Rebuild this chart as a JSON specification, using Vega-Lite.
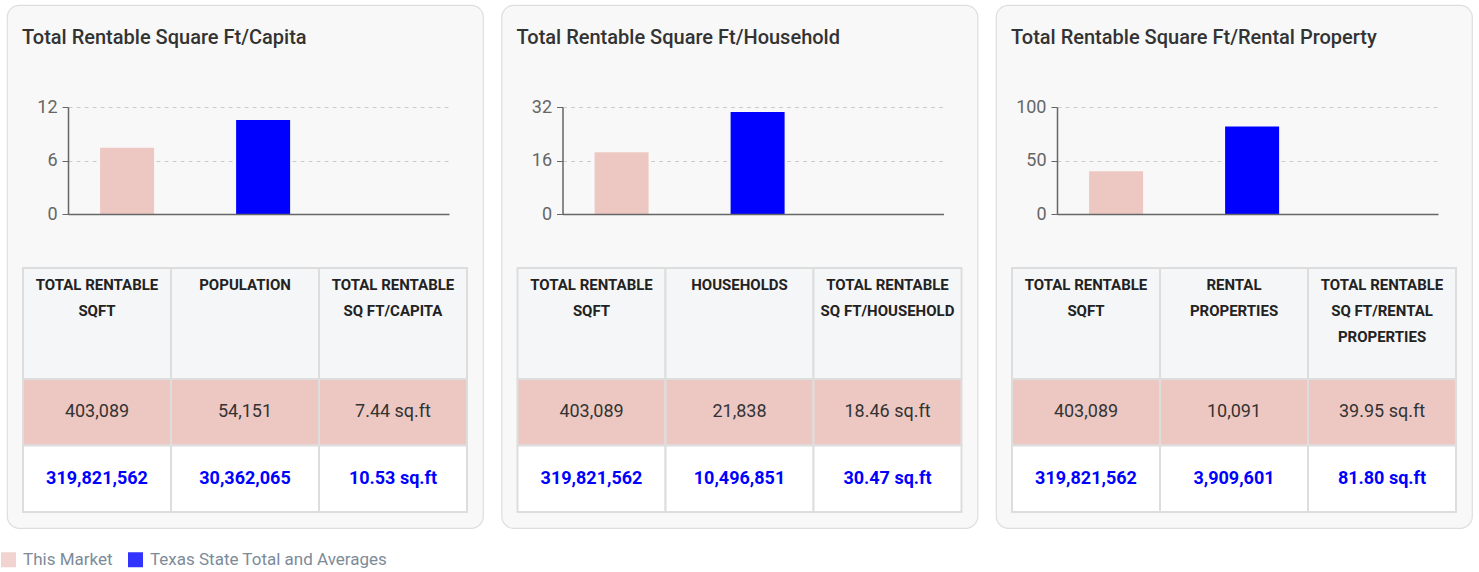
{
  "$schema": "https://vega.github.io/schema/vega-lite/v6.json",
  "padding": {"left": 0, "top": 4, "right": 0, "bottom": 0},
  "background": "white",
  "config": {
    "font": "Roboto",
    "view": {"fill": "#f8f8f8", "stroke": "#dedede", "strokeWidth": 1.2, "cornerRadius": 12},
    "concat": {"spacing": 16.5}
  },
  "datasets": {
    "bars": [
      {"panel": 1, "group": "This Market", "value": 7.44},
      {"panel": 1, "group": "Texas State Total and Averages", "value": 10.53},
      {"panel": 2, "group": "This Market", "value": 18.46},
      {"panel": 2, "group": "Texas State Total and Averages", "value": 30.47},
      {"panel": 3, "group": "This Market", "value": 39.95},
      {"panel": 3, "group": "Texas State Total and Averages", "value": 81.8}
    ],
    "table": [
      {"panel": 1, "row": "header", "col": "c1", "label": "TOTAL RENTABLE|SQFT"},
      {"panel": 1, "row": "header", "col": "c2", "label": "POPULATION"},
      {"panel": 1, "row": "header", "col": "c3", "label": "TOTAL RENTABLE|SQ FT/CAPITA"},
      {"panel": 1, "row": "This Market", "col": "c1", "label": "403,089"},
      {"panel": 1, "row": "This Market", "col": "c2", "label": "54,151"},
      {"panel": 1, "row": "This Market", "col": "c3", "label": "7.44 sq.ft"},
      {"panel": 1, "row": "Texas State Total and Averages", "col": "c1", "label": "319,821,562"},
      {"panel": 1, "row": "Texas State Total and Averages", "col": "c2", "label": "30,362,065"},
      {"panel": 1, "row": "Texas State Total and Averages", "col": "c3", "label": "10.53 sq.ft"},
      {"panel": 2, "row": "header", "col": "c1", "label": "TOTAL RENTABLE|SQFT"},
      {"panel": 2, "row": "header", "col": "c2", "label": "HOUSEHOLDS"},
      {"panel": 2, "row": "header", "col": "c3", "label": "TOTAL RENTABLE|SQ FT/HOUSEHOLD"},
      {"panel": 2, "row": "This Market", "col": "c1", "label": "403,089"},
      {"panel": 2, "row": "This Market", "col": "c2", "label": "21,838"},
      {"panel": 2, "row": "This Market", "col": "c3", "label": "18.46 sq.ft"},
      {"panel": 2, "row": "Texas State Total and Averages", "col": "c1", "label": "319,821,562"},
      {"panel": 2, "row": "Texas State Total and Averages", "col": "c2", "label": "10,496,851"},
      {"panel": 2, "row": "Texas State Total and Averages", "col": "c3", "label": "30.47 sq.ft"},
      {"panel": 3, "row": "header", "col": "c1", "label": "TOTAL RENTABLE|SQFT"},
      {"panel": 3, "row": "header", "col": "c2", "label": "RENTAL|PROPERTIES"},
      {"panel": 3, "row": "header", "col": "c3", "label": "TOTAL RENTABLE|SQ FT/RENTAL|PROPERTIES"},
      {"panel": 3, "row": "This Market", "col": "c1", "label": "403,089"},
      {"panel": 3, "row": "This Market", "col": "c2", "label": "10,091"},
      {"panel": 3, "row": "This Market", "col": "c3", "label": "39.95 sq.ft"},
      {"panel": 3, "row": "Texas State Total and Averages", "col": "c1", "label": "319,821,562"},
      {"panel": 3, "row": "Texas State Total and Averages", "col": "c2", "label": "3,909,601"},
      {"panel": 3, "row": "Texas State Total and Averages", "col": "c3", "label": "81.80 sq.ft"}
    ]
  },
  "hconcat": [
    {
      "width": 476, "height": 523,
      "title": {"text": "Total Rentable Square Ft/Capita", "anchor": "start", "frame": "group", "offset": -43, "dx": 15, "fontSize": 20, "fontWeight": 500, "color": "#333333"},
      "resolve": {"scale": {"x": "independent", "y": "independent"}},
      "layer": [
        {
          "data": {"name": "bars"},
          "transform": [{"filter": "datum.panel == 1"}],
          "mark": {"type": "bar"},
          "encoding": {
            "x": {"field": "group", "type": "nominal", "scale": {"domain": ["This Market", "Texas State Total and Averages"], "range": [61, 442], "paddingInner": 0.603, "paddingOuter": 0.702, "align": 0.168}, "axis": {"title": null, "labels": false, "ticks": false, "domain": true, "domainColor": "#666666", "domainWidth": 1.5, "grid": false, "offset": -314, "zindex": 1}},
            "y": {"field": "value", "type": "quantitative", "scale": {"domain": [0, 12], "range": [209, 102], "nice": false}, "axis": {"title": null, "values": [0, 6, 12], "offset": -61, "grid": true, "gridDash": [4, 4], "gridColor": "#cccccc", "domainColor": "#666666", "domainWidth": 1.5, "tickColor": "#666666", "tickSize": 6, "labelFontSize": 18, "labelColor": "#666666", "labelPadding": 5}},
            "color": {"field": "group", "type": "nominal", "scale": {"domain": ["This Market", "Texas State Total and Averages"], "range": ["#edc8c3", "#0000ff"]}, "legend": {"title": null, "orient": "none", "legendX": -7, "legendY": 546, "direction": "horizontal", "symbolType": "square", "symbolSize": 225, "symbolStrokeWidth": 0, "symbolOpacity": 0.8, "labelFontSize": 17, "labelColor": "#7d8b99", "labelOffset": 6, "labelLimit": 0, "columnPadding": 14}}
          }
        },
        {
          "data": {"name": "table"},
          "transform": [{"filter": "datum.panel == 1 && datum.row == 'header'"}],
          "mark": {"type": "rect", "fill": "#f5f6f8", "stroke": "#dddddd", "strokeWidth": 2},
          "encoding": {
            "x": {"field": "col", "type": "nominal", "scale": {"domain": ["c1", "c2", "c3"], "range": [16, 460], "paddingInner": 0, "paddingOuter": 0}, "axis": null},
            "y": {"field": "row", "type": "nominal", "scale": {"domain": ["header"], "range": [263, 374], "paddingInner": 0, "paddingOuter": 0}, "axis": null}
          }
        },
        {
          "data": {"name": "table"},
          "transform": [{"filter": "datum.panel == 1 && datum.row != 'header'"}],
          "mark": {"type": "rect", "stroke": "#dddddd", "strokeWidth": 2},
          "encoding": {
            "x": {"field": "col", "type": "nominal", "scale": {"domain": ["c1", "c2", "c3"], "range": [16, 460], "paddingInner": 0, "paddingOuter": 0}, "axis": null},
            "y": {"field": "row", "type": "nominal", "scale": {"domain": ["This Market", "Texas State Total and Averages"], "range": [374, 507], "paddingInner": 0, "paddingOuter": 0}, "axis": null},
            "fill": {"field": "row", "type": "nominal", "scale": {"domain": ["This Market", "Texas State Total and Averages"], "range": ["#edc8c3", "#ffffff"]}, "legend": null}
          }
        },
        {
          "data": {"name": "table"},
          "transform": [{"filter": "datum.panel == 1 && datum.row == 'header'"}],
          "mark": {"type": "text", "lineBreak": "|", "lineHeight": 26, "baseline": "top", "dy": -45.5, "fontSize": 15, "fontWeight": "bold", "color": "#222222"},
          "encoding": {
            "x": {"field": "col", "type": "nominal", "scale": {"domain": ["c1", "c2", "c3"], "range": [16, 460], "paddingInner": 0, "paddingOuter": 0}, "axis": null},
            "y": {"field": "row", "type": "nominal", "scale": {"domain": ["header"], "range": [263, 374], "paddingInner": 0, "paddingOuter": 0}, "axis": null},
            "text": {"field": "label"}
          }
        },
        {
          "data": {"name": "table"},
          "transform": [{"filter": "datum.panel == 1 && datum.row == 'This Market'"}],
          "mark": {"type": "text", "baseline": "middle", "fontSize": 18, "color": "#333333"},
          "encoding": {
            "x": {"field": "col", "type": "nominal", "scale": {"domain": ["c1", "c2", "c3"], "range": [16, 460], "paddingInner": 0, "paddingOuter": 0}, "axis": null},
            "y": {"field": "row", "type": "nominal", "scale": {"domain": ["This Market", "Texas State Total and Averages"], "range": [374, 507], "paddingInner": 0, "paddingOuter": 0}, "axis": null},
            "text": {"field": "label"}
          }
        },
        {
          "data": {"name": "table"},
          "transform": [{"filter": "datum.panel == 1 && datum.row == 'Texas State Total and Averages'"}],
          "mark": {"type": "text", "baseline": "middle", "fontSize": 18, "fontWeight": "bold", "color": "#0000ff"},
          "encoding": {
            "x": {"field": "col", "type": "nominal", "scale": {"domain": ["c1", "c2", "c3"], "range": [16, 460], "paddingInner": 0, "paddingOuter": 0}, "axis": null},
            "y": {"field": "row", "type": "nominal", "scale": {"domain": ["This Market", "Texas State Total and Averages"], "range": [374, 507], "paddingInner": 0, "paddingOuter": 0}, "axis": null},
            "text": {"field": "label"}
          }
        }
      ]
    },
    {
      "width": 476, "height": 523,
      "title": {"text": "Total Rentable Square Ft/Household", "anchor": "start", "frame": "group", "offset": -43, "dx": 15, "fontSize": 20, "fontWeight": 500, "color": "#333333"},
      "resolve": {"scale": {"x": "independent", "y": "independent"}},
      "layer": [
        {
          "data": {"name": "bars"},
          "transform": [{"filter": "datum.panel == 2"}],
          "mark": {"type": "bar"},
          "encoding": {
            "x": {"field": "group", "type": "nominal", "scale": {"domain": ["This Market", "Texas State Total and Averages"], "range": [61, 442], "paddingInner": 0.603, "paddingOuter": 0.702, "align": 0.168}, "axis": {"title": null, "labels": false, "ticks": false, "domain": true, "domainColor": "#666666", "domainWidth": 1.5, "grid": false, "offset": -314, "zindex": 1}},
            "y": {"field": "value", "type": "quantitative", "scale": {"domain": [0, 32], "range": [209, 102], "nice": false}, "axis": {"title": null, "values": [0, 16, 32], "offset": -61, "grid": true, "gridDash": [4, 4], "gridColor": "#cccccc", "domainColor": "#666666", "domainWidth": 1.5, "tickColor": "#666666", "tickSize": 6, "labelFontSize": 18, "labelColor": "#666666", "labelPadding": 5}},
            "color": {"field": "group", "type": "nominal", "scale": {"domain": ["This Market", "Texas State Total and Averages"], "range": ["#edc8c3", "#0000ff"]}}
          }
        },
        {
          "data": {"name": "table"},
          "transform": [{"filter": "datum.panel == 2 && datum.row == 'header'"}],
          "mark": {"type": "rect", "fill": "#f5f6f8", "stroke": "#dddddd", "strokeWidth": 2},
          "encoding": {
            "x": {"field": "col", "type": "nominal", "scale": {"domain": ["c1", "c2", "c3"], "range": [16, 460], "paddingInner": 0, "paddingOuter": 0}, "axis": null},
            "y": {"field": "row", "type": "nominal", "scale": {"domain": ["header"], "range": [263, 374], "paddingInner": 0, "paddingOuter": 0}, "axis": null}
          }
        },
        {
          "data": {"name": "table"},
          "transform": [{"filter": "datum.panel == 2 && datum.row != 'header'"}],
          "mark": {"type": "rect", "stroke": "#dddddd", "strokeWidth": 2},
          "encoding": {
            "x": {"field": "col", "type": "nominal", "scale": {"domain": ["c1", "c2", "c3"], "range": [16, 460], "paddingInner": 0, "paddingOuter": 0}, "axis": null},
            "y": {"field": "row", "type": "nominal", "scale": {"domain": ["This Market", "Texas State Total and Averages"], "range": [374, 507], "paddingInner": 0, "paddingOuter": 0}, "axis": null},
            "fill": {"field": "row", "type": "nominal", "scale": {"domain": ["This Market", "Texas State Total and Averages"], "range": ["#edc8c3", "#ffffff"]}, "legend": null}
          }
        },
        {
          "data": {"name": "table"},
          "transform": [{"filter": "datum.panel == 2 && datum.row == 'header'"}],
          "mark": {"type": "text", "lineBreak": "|", "lineHeight": 26, "baseline": "top", "dy": -45.5, "fontSize": 15, "fontWeight": "bold", "color": "#222222"},
          "encoding": {
            "x": {"field": "col", "type": "nominal", "scale": {"domain": ["c1", "c2", "c3"], "range": [16, 460], "paddingInner": 0, "paddingOuter": 0}, "axis": null},
            "y": {"field": "row", "type": "nominal", "scale": {"domain": ["header"], "range": [263, 374], "paddingInner": 0, "paddingOuter": 0}, "axis": null},
            "text": {"field": "label"}
          }
        },
        {
          "data": {"name": "table"},
          "transform": [{"filter": "datum.panel == 2 && datum.row == 'This Market'"}],
          "mark": {"type": "text", "baseline": "middle", "fontSize": 18, "color": "#333333"},
          "encoding": {
            "x": {"field": "col", "type": "nominal", "scale": {"domain": ["c1", "c2", "c3"], "range": [16, 460], "paddingInner": 0, "paddingOuter": 0}, "axis": null},
            "y": {"field": "row", "type": "nominal", "scale": {"domain": ["This Market", "Texas State Total and Averages"], "range": [374, 507], "paddingInner": 0, "paddingOuter": 0}, "axis": null},
            "text": {"field": "label"}
          }
        },
        {
          "data": {"name": "table"},
          "transform": [{"filter": "datum.panel == 2 && datum.row == 'Texas State Total and Averages'"}],
          "mark": {"type": "text", "baseline": "middle", "fontSize": 18, "fontWeight": "bold", "color": "#0000ff"},
          "encoding": {
            "x": {"field": "col", "type": "nominal", "scale": {"domain": ["c1", "c2", "c3"], "range": [16, 460], "paddingInner": 0, "paddingOuter": 0}, "axis": null},
            "y": {"field": "row", "type": "nominal", "scale": {"domain": ["This Market", "Texas State Total and Averages"], "range": [374, 507], "paddingInner": 0, "paddingOuter": 0}, "axis": null},
            "text": {"field": "label"}
          }
        }
      ]
    },
    {
      "width": 476, "height": 523,
      "title": {"text": "Total Rentable Square Ft/Rental Property", "anchor": "start", "frame": "group", "offset": -43, "dx": 15, "fontSize": 20, "fontWeight": 500, "color": "#333333"},
      "resolve": {"scale": {"x": "independent", "y": "independent"}},
      "layer": [
        {
          "data": {"name": "bars"},
          "transform": [{"filter": "datum.panel == 3"}],
          "mark": {"type": "bar"},
          "encoding": {
            "x": {"field": "group", "type": "nominal", "scale": {"domain": ["This Market", "Texas State Total and Averages"], "range": [61, 442], "paddingInner": 0.603, "paddingOuter": 0.702, "align": 0.168}, "axis": {"title": null, "labels": false, "ticks": false, "domain": true, "domainColor": "#666666", "domainWidth": 1.5, "grid": false, "offset": -314, "zindex": 1}},
            "y": {"field": "value", "type": "quantitative", "scale": {"domain": [0, 100], "range": [209, 102], "nice": false}, "axis": {"title": null, "values": [0, 50, 100], "offset": -61, "grid": true, "gridDash": [4, 4], "gridColor": "#cccccc", "domainColor": "#666666", "domainWidth": 1.5, "tickColor": "#666666", "tickSize": 6, "labelFontSize": 18, "labelColor": "#666666", "labelPadding": 5}},
            "color": {"field": "group", "type": "nominal", "scale": {"domain": ["This Market", "Texas State Total and Averages"], "range": ["#edc8c3", "#0000ff"]}}
          }
        },
        {
          "data": {"name": "table"},
          "transform": [{"filter": "datum.panel == 3 && datum.row == 'header'"}],
          "mark": {"type": "rect", "fill": "#f5f6f8", "stroke": "#dddddd", "strokeWidth": 2},
          "encoding": {
            "x": {"field": "col", "type": "nominal", "scale": {"domain": ["c1", "c2", "c3"], "range": [16, 460], "paddingInner": 0, "paddingOuter": 0}, "axis": null},
            "y": {"field": "row", "type": "nominal", "scale": {"domain": ["header"], "range": [263, 374], "paddingInner": 0, "paddingOuter": 0}, "axis": null}
          }
        },
        {
          "data": {"name": "table"},
          "transform": [{"filter": "datum.panel == 3 && datum.row != 'header'"}],
          "mark": {"type": "rect", "stroke": "#dddddd", "strokeWidth": 2},
          "encoding": {
            "x": {"field": "col", "type": "nominal", "scale": {"domain": ["c1", "c2", "c3"], "range": [16, 460], "paddingInner": 0, "paddingOuter": 0}, "axis": null},
            "y": {"field": "row", "type": "nominal", "scale": {"domain": ["This Market", "Texas State Total and Averages"], "range": [374, 507], "paddingInner": 0, "paddingOuter": 0}, "axis": null},
            "fill": {"field": "row", "type": "nominal", "scale": {"domain": ["This Market", "Texas State Total and Averages"], "range": ["#edc8c3", "#ffffff"]}, "legend": null}
          }
        },
        {
          "data": {"name": "table"},
          "transform": [{"filter": "datum.panel == 3 && datum.row == 'header'"}],
          "mark": {"type": "text", "lineBreak": "|", "lineHeight": 26, "baseline": "top", "dy": -45.5, "fontSize": 15, "fontWeight": "bold", "color": "#222222"},
          "encoding": {
            "x": {"field": "col", "type": "nominal", "scale": {"domain": ["c1", "c2", "c3"], "range": [16, 460], "paddingInner": 0, "paddingOuter": 0}, "axis": null},
            "y": {"field": "row", "type": "nominal", "scale": {"domain": ["header"], "range": [263, 374], "paddingInner": 0, "paddingOuter": 0}, "axis": null},
            "text": {"field": "label"}
          }
        },
        {
          "data": {"name": "table"},
          "transform": [{"filter": "datum.panel == 3 && datum.row == 'This Market'"}],
          "mark": {"type": "text", "baseline": "middle", "fontSize": 18, "color": "#333333"},
          "encoding": {
            "x": {"field": "col", "type": "nominal", "scale": {"domain": ["c1", "c2", "c3"], "range": [16, 460], "paddingInner": 0, "paddingOuter": 0}, "axis": null},
            "y": {"field": "row", "type": "nominal", "scale": {"domain": ["This Market", "Texas State Total and Averages"], "range": [374, 507], "paddingInner": 0, "paddingOuter": 0}, "axis": null},
            "text": {"field": "label"}
          }
        },
        {
          "data": {"name": "table"},
          "transform": [{"filter": "datum.panel == 3 && datum.row == 'Texas State Total and Averages'"}],
          "mark": {"type": "text", "baseline": "middle", "fontSize": 18, "fontWeight": "bold", "color": "#0000ff"},
          "encoding": {
            "x": {"field": "col", "type": "nominal", "scale": {"domain": ["c1", "c2", "c3"], "range": [16, 460], "paddingInner": 0, "paddingOuter": 0}, "axis": null},
            "y": {"field": "row", "type": "nominal", "scale": {"domain": ["This Market", "Texas State Total and Averages"], "range": [374, 507], "paddingInner": 0, "paddingOuter": 0}, "axis": null},
            "text": {"field": "label"}
          }
        }
      ]
    }
  ]
}
